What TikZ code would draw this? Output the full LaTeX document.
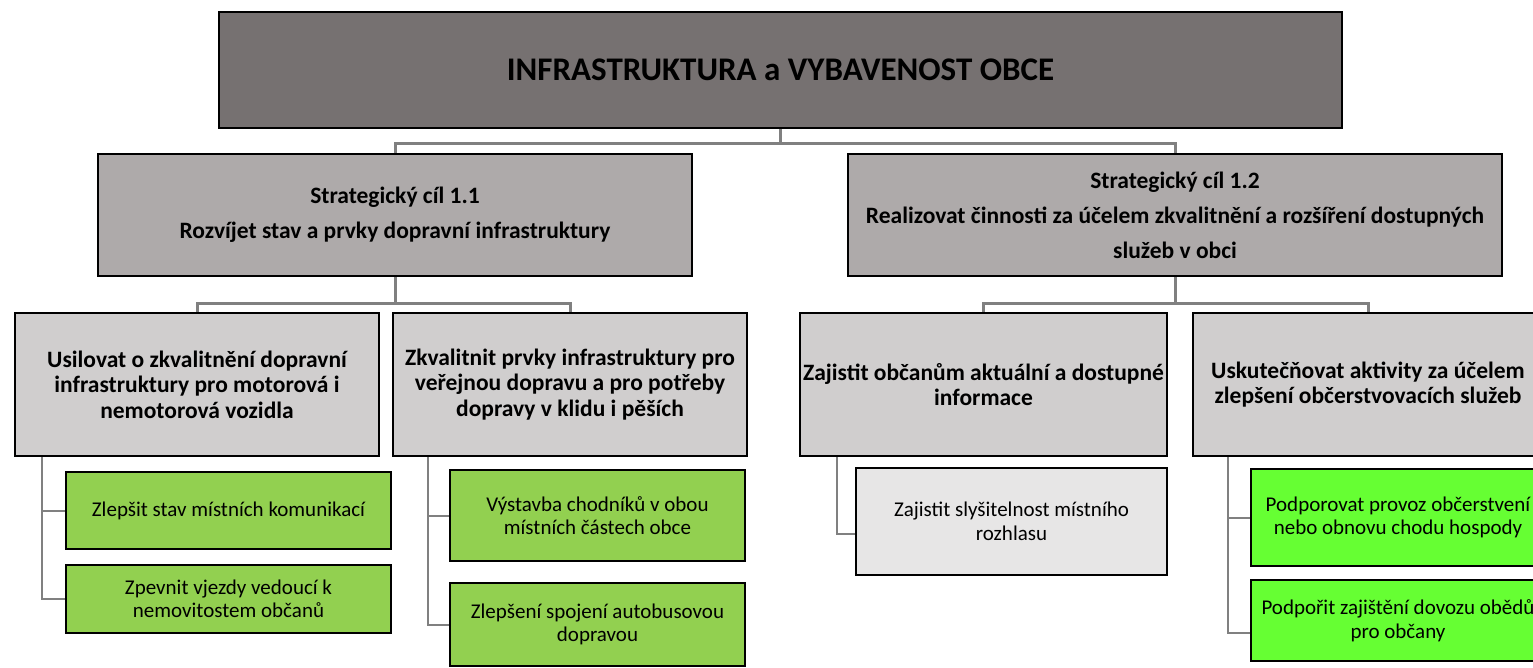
\documentclass[tikz,border=0pt]{standalone}
\usepackage{fontspec}
\setmainfont{Carlito}
\usepackage{tikz}

\definecolor{rootgray}{HTML}{767171}
\definecolor{goalgray}{HTML}{AEAAAA}
\definecolor{aimgray}{HTML}{D0CECE}
\definecolor{paleGray}{HTML}{E7E6E6}
\definecolor{leafgreen}{HTML}{92D050}
\definecolor{limegreen}{HTML}{66FF33}
\definecolor{linegray}{HTML}{808080}

\begin{document}
\begin{tikzpicture}[x=1pt,y=1pt]
\tikzstyle{every node}+=[inner sep=0pt, align=center]
\tikzstyle{box}=[draw=black, line width=2.2pt]
\tikzstyle{goal}=[box, fill=goalgray, minimum height=122pt, font=\fontsize{23.5}{35}\selectfont\bfseries]
\tikzstyle{aim}=[box, fill=aimgray, minimum height=143pt, font=\fontsize{23.5}{25.5}\selectfont\bfseries]
\tikzstyle{task}=[box, font=\fontsize{21}{23.5}\selectfont]
\tikzstyle{conn}=[draw=linegray, line width=3pt]
\tikzstyle{tick}=[draw=linegray, line width=2pt]
\useasboundingbox (0,0) rectangle (1533,-668);
\draw (780.5,-70) node [box, fill=rootgray, minimum width=1123pt, minimum height=116pt, font=\fontsize{33}{40}\selectfont\bfseries] (root) {INFRASTRUKTURA a VYBAVENOST OBCE};
\draw (395,-215) node [goal, minimum width=594pt] (s1) {Strategický cíl 1.1\\Rozvíjet stav a prvky dopravní infrastruktury};
\draw (1175,-215) node [goal, minimum width=654pt] (s2) {Strategický cíl 1.2\\Realizovat činnosti za účelem zkvalitnění a rozšíření dostupných\\služeb v obci};
\draw (197,-384.5) node [aim, minimum width=364pt] (m1) {Usilovat o zkvalitnění dopravní\\infrastruktury pro motorová i\\nemotorová vozidla};
\draw (570,-384.5) node [aim, minimum width=354pt] (m2) {Zkvalitnit prvky infrastruktury pro\\veřejnou dopravu a pro potřeby\\dopravy v klidu i pěších};
\draw (983.5,-384.5) node [aim, minimum width=367pt] (m3) {Zajistit občanům aktuální a dostupné\\informace};
\draw (1368,-384.5) node [aim, minimum width=350pt] (m4) {Uskutečňovat aktivity za účelem\\zlepšení občerstvovacích služeb};
\draw (228.5,-510.5) node [task, fill=leafgreen, minimum width=325pt, minimum height=77pt] (l1a) {Zlepšit stav místních komunikací};
\draw (228.5,-599) node [task, fill=leafgreen, minimum width=325pt, minimum height=68pt] (l1b) {Zpevnit vjezdy vedoucí k\\nemovitostem občanů};
\draw (597.5,-515.5) node [task, fill=leafgreen, minimum width=295pt, minimum height=91pt] (l2a) {Výstavba chodníků v obou\\místních částech obce};
\draw (597.5,-624.5) node [task, fill=leafgreen, minimum width=295pt, minimum height=83pt] (l2b) {Zlepšení spojení autobusovou\\dopravou};
\draw (1011.5,-521.5) node [task, fill=paleGray, minimum width=311pt, minimum height=107pt] (l3a) {Zajistit slyšitelnost místního\\rozhlasu};
\draw (1398,-517.5) node [task, fill=limegreen, minimum width=294pt, minimum height=97pt] (l4a) {Podporovat provoz občerstvení\\nebo obnovu chodu hospody};
\draw (1398,-620.5) node [task, fill=limegreen, minimum width=294pt, minimum height=81pt] (l4b) {Podpořit zajištění dovozu obědů\\pro občany};
\draw [conn] (root.south) -- ++(0,-14) -| (s1.north);
\draw [conn] (root.south) -- ++(0,-14) -| (s2.north);
\draw [conn] (s1.south) -- ++(0,-26) -| (m1.north);
\draw [conn] (s1.south) -- ++(0,-26) -| (m2.north);
\draw [conn] (s2.south) -- ++(0,-26) -| (m3.north);
\draw [conn] (s2.south) -- ++(0,-26) -| (m4.north);
\draw [tick] (m1.south -| l1a.west) ++(-23,0) |- (l1a.west);
\draw [tick] (m1.south -| l1b.west) ++(-23,0) |- (l1b.west);
\draw [tick] (m2.south -| l2a.west) ++(-21,0) |- (l2a.west);
\draw [tick] (m2.south -| l2b.west) ++(-21,0) |- (l2b.west);
\draw [tick] (m3.south -| l3a.west) ++(-18,0) |- ([yshift=-12pt]l3a.west);
\draw [tick] (m4.south -| l4a.west) ++(-22,0) |- (l4a.west);
\draw [tick] (m4.south -| l4b.west) ++(-22,0) |- ([yshift=-12pt]l4b.west);
\end{tikzpicture}
\end{document}
